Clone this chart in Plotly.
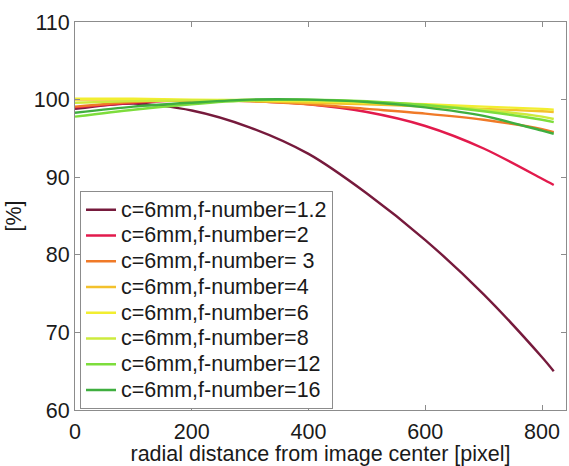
import plotly.graph_objects as go

# radial distance from image center [pixel]
radius = [0, 100, 200, 300, 400, 500, 600, 700, 800, 820]

# relative illumination [%] for each aperture setting (c = 6 mm)
f_1_2 = [98.8, 99.5, 98.6, 96.4, 93.0, 87.9, 81.9, 74.9, 66.8, 65.0]
f_2 = [99.0, 99.6, 99.9, 99.8, 99.4, 98.4, 96.6, 93.7, 89.8, 89.0]
f_3 = [99.1, 99.7, 99.9, 99.8, 99.4, 98.8, 98.2, 97.4, 96.2, 95.8]
f_4 = [100.0, 100.0, 99.9, 99.8, 99.6, 99.4, 99.1, 98.8, 98.5, 98.4]
f_6 = [100.1, 100.1, 100.0, 99.9, 99.8, 99.6, 99.4, 99.1, 98.8, 98.7]
f_8 = [99.6, 99.8, 99.9, 100.0, 99.9, 99.7, 99.3, 98.7, 97.8, 97.5]
f_12 = [97.8, 98.7, 99.4, 99.9, 100.0, 99.8, 99.3, 98.5, 97.4, 97.1]
f_16 = [98.3, 99.1, 99.6, 100.0, 100.0, 99.7, 99.0, 97.9, 96.0, 95.6]

labels = [
    "c=6mm,f-number=1.2",
    "c=6mm,f-number=2",
    "c=6mm,f-number= 3",
    "c=6mm,f-number=4",
    "c=6mm,f-number=6",
    "c=6mm,f-number=8",
    "c=6mm,f-number=12",
    "c=6mm,f-number=16",
]
series = [f_1_2, f_2, f_3, f_4, f_6, f_8, f_12, f_16]
colors = ["#761a3c", "#e21a4c", "#f07a28", "#f3c12c", "#f2ee30",
          "#cdeb3e", "#7ddd3c", "#3fae3f"]

x_ticks = [0, 200, 400, 600, 800]
y_ticks = [60, 70, 80, 90, 100, 110]

FONT = "Liberation Sans, Arial, Helvetica, sans-serif"
TEXT_SIZE = 21.5

fig = go.Figure()
for name, values, color in zip(labels, series, colors):
    fig.add_trace(go.Scatter(
        x=radius, y=values, mode="lines",
        name=f'<span style="font-size:{TEXT_SIZE}px">{name}</span>',
        line=dict(color=color, width=2.4, shape="spline", smoothing=0.8),
    ))

axis_style = dict(
    showline=True, linecolor="#8c8c8c", linewidth=1, mirror="ticks",
    ticks="inside", ticklen=5, tickcolor="#8c8c8c", tickwidth=1,
    showgrid=False, zeroline=False,
    tickfont=dict(family=FONT, size=TEXT_SIZE, color="#1a1a1a"),
)

fig.update_xaxes(
    range=[0, 841], tickvals=x_ticks, ticktext=[str(v) for v in x_ticks],
    title=dict(text="radial distance from image center [pixel]",
               font=dict(family=FONT, size=TEXT_SIZE, color="#1a1a1a"),
               standoff=5),
    ticklabelstandoff=2,
    **axis_style,
)
fig.update_yaxes(
    range=[60, 110], tickvals=y_ticks, ticktext=[str(v) for v in y_ticks],
    title=dict(text="[%]",
               font=dict(family=FONT, size=TEXT_SIZE, color="#1a1a1a"),
               standoff=6),
    ticklabelstandoff=0,
    **axis_style,
)

fig.update_layout(
    width=569, height=466,
    margin=dict(l=75, r=2, t=22, b=52),
    paper_bgcolor="white", plot_bgcolor="white",
    font=dict(family=FONT, size=TEXT_SIZE, color="#1a1a1a"),
    legend=dict(
        x=0.0102, y=0.003, xanchor="left", yanchor="bottom",
        bgcolor="white", bordercolor="#8c8c8c", borderwidth=1,
        font=dict(family=FONT, size=17.5, color="#1a1a1a"),
        itemwidth=30, tracegroupgap=0,
    ),
)

fig.write_html("out.html")
